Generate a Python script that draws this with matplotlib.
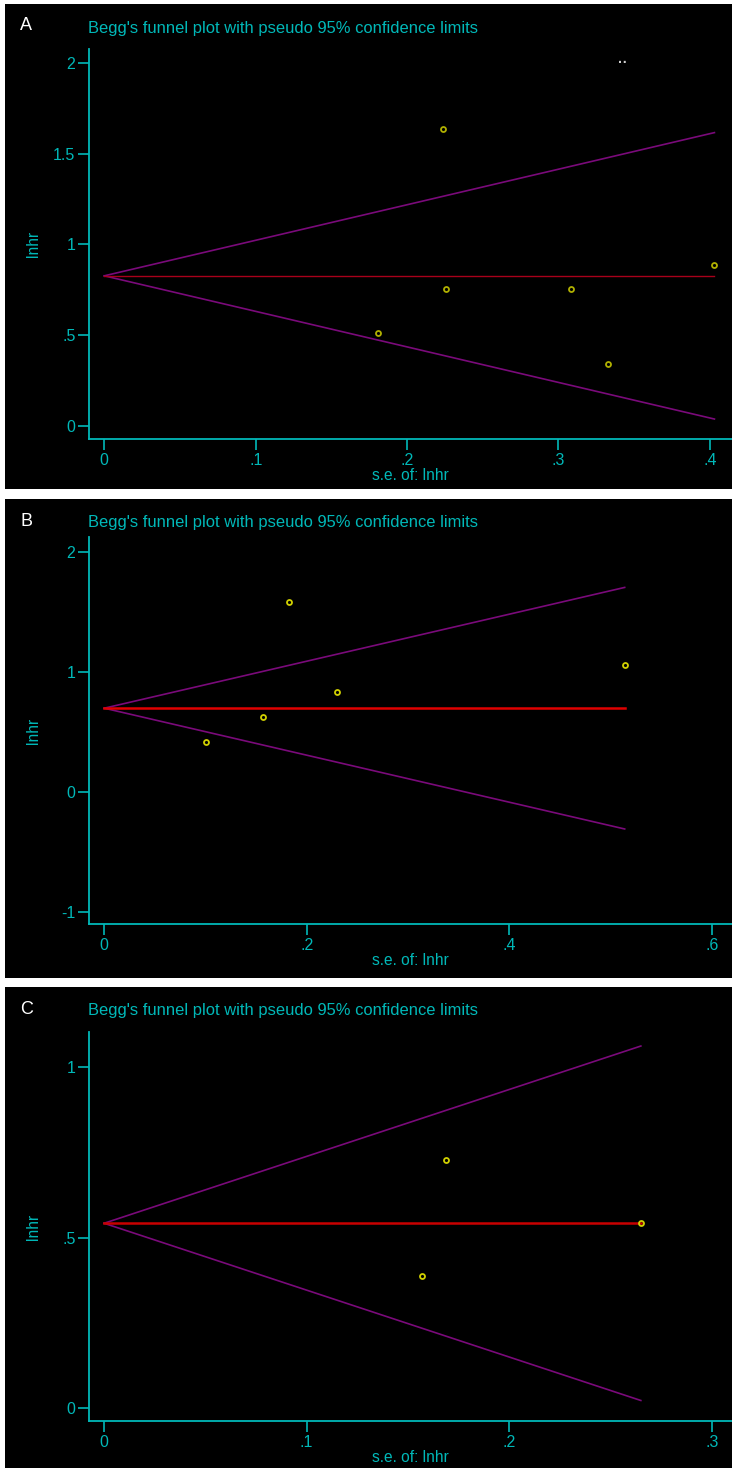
import numpy as np
import matplotlib
matplotlib.use("Agg")
import matplotlib.pyplot as plt
from matplotlib.patches import Rectangle

W_PX, H_PX = 732, 1469

# Panel A
se_a    = [0.181, 0.224, 0.226, 0.308, 0.333, 0.403]
lnhr_a  = [0.513, 1.636, 0.756, 0.756, 0.342, 0.885]
pool_a  = 0.827
# Panel B
se_b    = [0.100, 0.157, 0.182, 0.230, 0.514]
lnhr_b  = [0.422, 0.625, 1.586, 0.836, 1.061]
pool_b  = 0.700
# Panel C
se_c    = [0.157, 0.1686, 0.265]
lnhr_c  = [0.388, 0.729, 0.544]
pool_c  = 0.5425

xticks_a = [0, 0.1, 0.2, 0.3, 0.4]
xlabs_a  = ["0", ".1", ".2", ".3", ".4"]
yticks_a = [0, 0.5, 1, 1.5, 2]
ylabs_a  = ["0", ".5", "1", "1.5", "2"]
xticks_b = [0, 0.2, 0.4, 0.6]
xlabs_b  = ["0", ".2", ".4", ".6"]
yticks_b = [-1, 0, 1, 2]
ylabs_b  = ["-1", "0", "1", "2"]
xticks_c = [0, 0.1, 0.2, 0.3]
xlabs_c  = ["0", ".1", ".2", ".3"]
yticks_c = [0, 0.5, 1]
ylabs_c  = ["0", ".5", "1"]

TITLE = "Begg's funnel plot with pseudo 95% confidence limits"
CYAN = "#00b8b8"
PURPLE = "#7a0a7a"

plt.rcParams["font.family"] = ["Liberation Sans", "DejaVu Sans"]

fig = plt.figure(figsize=(W_PX / 100, H_PX / 100), dpi=100)
fig.patch.set_facecolor("white")


def fx(px):
    return px / W_PX


def fy(py):
    return 1 - py / H_PX


def panel(letter, box, ax_box, se, lnhr, pool, xlim, ylim,
          xt, xl, yt, yl, red, yellow, red_lw, extra=None):
    x0, y0, x1, y1 = box
    fig.add_artist(Rectangle((fx(x0), fy(y1)), fx(x1 - x0), (y1 - y0) / H_PX,
                             transform=fig.transFigure, facecolor="black",
                             edgecolor="none", zorder=0))
    l, t, r, b = ax_box
    ax = fig.add_axes([fx(l), fy(b), fx(r - l), (b - t) / H_PX])
    ax.set_facecolor("none")
    ax.patch.set_alpha(0)

    se = np.array(se)
    smax = se.max()
    xs = np.array([0, smax])
    ax.plot(xs, pool + 1.96 * xs, color=PURPLE, lw=1.2, zorder=2)
    ax.plot(xs, pool - 1.96 * xs, color=PURPLE, lw=1.2, zorder=2)
    ax.plot(xs, [pool, pool], color=red, lw=red_lw, zorder=3)
    ax.plot(se, lnhr, linestyle="none", marker="o", ms=3.6,
            mfc="none", mec=yellow, mew=1.3, zorder=4)

    ax.set_xlim(*xlim)
    ax.set_ylim(*ylim)
    for s in ["top", "right"]:
        ax.spines[s].set_visible(False)
    for s in ["left", "bottom"]:
        ax.spines[s].set_color(CYAN)
        ax.spines[s].set_linewidth(1.3)
    ax.set_xticks(xt)
    ax.set_xticklabels(xl)
    ax.set_yticks(yt)
    ax.set_yticklabels(yl)
    ax.tick_params(colors=CYAN, labelsize=11.5, length=8, width=1.2, pad=2)
    ax.set_xlabel("s.e. of: lnhr", color=CYAN, fontsize=11.2, labelpad=0)
    ax.set_ylabel("lnhr", color=CYAN, fontsize=11.2)
    ax.yaxis.set_label_coords((41 - l) / (r - l), 0.5)

    fig.text(fx(x0 + 15), fy(y0 + 22), letter, color="white", fontsize=13,
             va="center", ha="left")
    fig.text(fx(88), fy(y0 + 24), TITLE, color=CYAN, fontsize=11.9,
             va="center", ha="left")
    if extra:
        ax.text(*extra, "\u00b7\u00b7", color="#d0d0d0", fontsize=10,
                fontweight="bold", transform=ax.transAxes,
                ha="center", va="center")
    return ax


panel("A", (5, 4, 732, 489), (89.3, 49, 732, 439), se_a, lnhr_a, pool_a,
      (-0.0099, 0.4146), (-0.073, 2.078), xticks_a, xlabs_a, yticks_a, ylabs_a,
      "#a8001a", "#b0b000", 1.0, extra=(0.83, 0.965))
panel("B", (5, 499, 732, 978), (89.3, 537, 732, 924.3), se_b, lnhr_b, pool_b,
      (-0.0148, 0.62), (-1.1025, 2.128), xticks_b, xlabs_b, yticks_b, ylabs_b,
      "#e00000", "#d0d000", 1.8)
panel("C", (5, 987, 732, 1468), (89.3, 1032, 732, 1421), se_c, lnhr_c, pool_c,
      (-0.0073, 0.31), (-0.037, 1.103), xticks_c, xlabs_c, yticks_c, ylabs_c,
      "#c80000", "#d0d000", 1.8)

fig.savefig("out.png", dpi=100, facecolor="white")
